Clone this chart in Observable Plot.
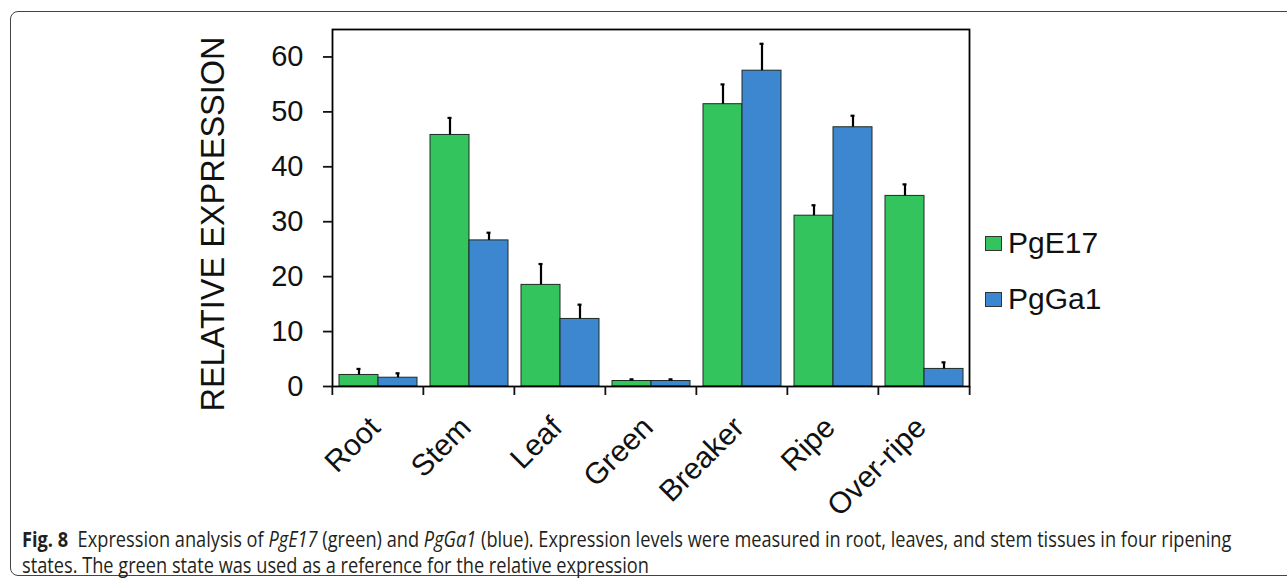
<!DOCTYPE html>
<html>
<head>
<meta charset="utf-8">
<script src="https://cdn.jsdelivr.net/npm/d3@7"></script>
<script src="https://cdn.jsdelivr.net/npm/@observablehq/plot@0.6"></script>
<style>
  html, body { margin: 0; padding: 0; background: #fff; }
  #wrap { position: relative; width: 1287px; height: 582px; overflow: hidden; background: #fff; }
  #border { position: absolute; left: 10px; top: 11px; width: 1320px; height: 565px; border: 1.5px solid #444; border-radius: 8px; box-sizing: border-box; }
  #chart { position: absolute; left: 0; top: 0; }
  #legend { position: absolute; left: 0; top: 0; font-family: "Liberation Sans", Arial, sans-serif; }
  .item { position: absolute; display: flex; align-items: center; font-size: 30px; color: #111; }
  .sw { width: 17px; height: 15px; border: 1px solid #333; box-sizing: border-box; margin-right: 6px; }
  #caption { position: absolute; left: 22px; top: 526px; font-family: "Open Sans", "Noto Sans", sans-serif; font-size: 21px; color: #231f20; }
  .line { white-space: nowrap; transform-origin: 0 0; height: 26px; line-height: 26px; }
</style>
</head>
<body>
<div id="wrap">
  <div id="border"></div>
  <div id="chart"></div>
  <div id="legend"></div>
  <div id="caption"></div>
</div>
<script>
const categories = ["Root", "Stem", "Leaf", "Green", "Breaker", "Ripe", "Over-ripe"];
const series = ["PgE17", "PgGa1"];
const pge17 = [2.1, 45.8, 18.5, 1.0, 51.4, 31.1, 34.7];
const pge17Err = [1.1, 3.1, 3.8, 0.3, 3.6, 1.9, 2.1];
const pgga1 = [1.6, 26.6, 12.3, 1.0, 57.5, 47.2, 3.2];
const pgga1Err = [0.8, 1.4, 2.6, 0.3, 4.9, 2.1, 1.2];
const yTicks = [0, 10, 20, 30, 40, 50, 60];
const colors = ["#34c45e", "#3c87cf"];
const yLabel = "RELATIVE EXPRESSION";

const data = [];
categories.forEach((c, i) => {
  data.push({category: c, series: series[0], value: pge17[i], err: pge17Err[i]});
  data.push({category: c, series: series[1], value: pgga1[i], err: pgga1Err[i]});
});

const W = 1287, ML = 331, MR = 317;
const step = (W - ML - MR) / categories.length;

const chart = Plot.plot({
  width: W,
  height: 530,
  marginLeft: ML,
  marginRight: MR,
  marginTop: 29,
  marginBottom: 144,
  style: {fontFamily: "'Liberation Sans', Arial, sans-serif", background: "transparent", color: "#111"},
  fx: {domain: categories, padding: 0, axis: null},
  x: {domain: series, paddingInner: 0, paddingOuter: 0.156, axis: null},
  y: {domain: [0, 65], axis: null},
  color: {domain: series, range: colors},
  marks: [
    Plot.barY(data, {fx: "category", x: "series", y: "value", fill: "series", stroke: "#1e2b24", strokeWidth: 1}),
    Plot.ruleX(data, {fx: "category", x: "series", y1: "value", y2: d => d.value + d.err, stroke: "#000", strokeWidth: 2.2}),
    Plot.tickY(data, {fx: "category", x: "series", y: d => d.value + d.err, stroke: "#000", strokeWidth: 2.2, insetLeft: 17.5, insetRight: 17.5}),
    Plot.frame({stroke: "#000", strokeWidth: 1.8, facet: "super"}),
    Plot.axisY({ticks: yTicks, tickSize: 9, tickPadding: 20, fontSize: 29, strokeWidth: 1.8, label: null}),
    Plot.text([yLabel], {fx: () => categories[0], text: d => d, frameAnchor: "left", textAnchor: "middle", lineAnchor: "middle", rotate: -90, dx: -119, dy: 16, fontSize: 32.5, fill: "#111"}),
    Plot.axisFx({anchor: "bottom", tickSize: 9, strokeWidth: 1.8, tickFormat: () => "", dx: -step / 2, label: null}),
    Plot.axisFx({anchor: "bottom", ticks: [categories[categories.length - 1]], tickSize: 9, strokeWidth: 1.8, tickFormat: () => "", dx: step / 2, label: null}),
    Plot.axisFx({anchor: "bottom", tickSize: 0, tickRotate: -45, fontSize: 30, tickPadding: 36, dx: -3, label: null})
  ]
});
document.getElementById("chart").appendChild(chart);

// legend
const legend = document.getElementById("legend");
series.forEach((s, i) => {
  const it = document.createElement("div");
  it.className = "item";
  it.style.left = "985px";
  it.style.top = (226 + i * 56) + "px";
  const sw = document.createElement("div");
  sw.className = "sw";
  sw.style.background = colors[i];
  it.appendChild(sw);
  const t = document.createElement("span");
  t.textContent = s;
  it.appendChild(t);
  legend.appendChild(it);
});

// caption
const cap = document.getElementById("caption");
cap.innerHTML =
  '<div class="line" id="l1"><b>Fig. 8</b>&nbsp; Expression analysis of <i>PgE17</i> (green) and <i>PgGa1</i> (blue). Expression levels were measured in root, leaves, and stem tissues in four ripening</div>' +
  '<div class="line" id="l2">states. The green state was used as a reference for the relative expression</div>';
const l1 = document.getElementById("l1"), l2 = document.getElementById("l2");
const r1 = l1.scrollWidth;
const k = 1209 / r1;
l1.style.transform = `scaleX(${k})`;
l2.style.transform = `scaleX(${k})`;
</script>
</body>
</html>
